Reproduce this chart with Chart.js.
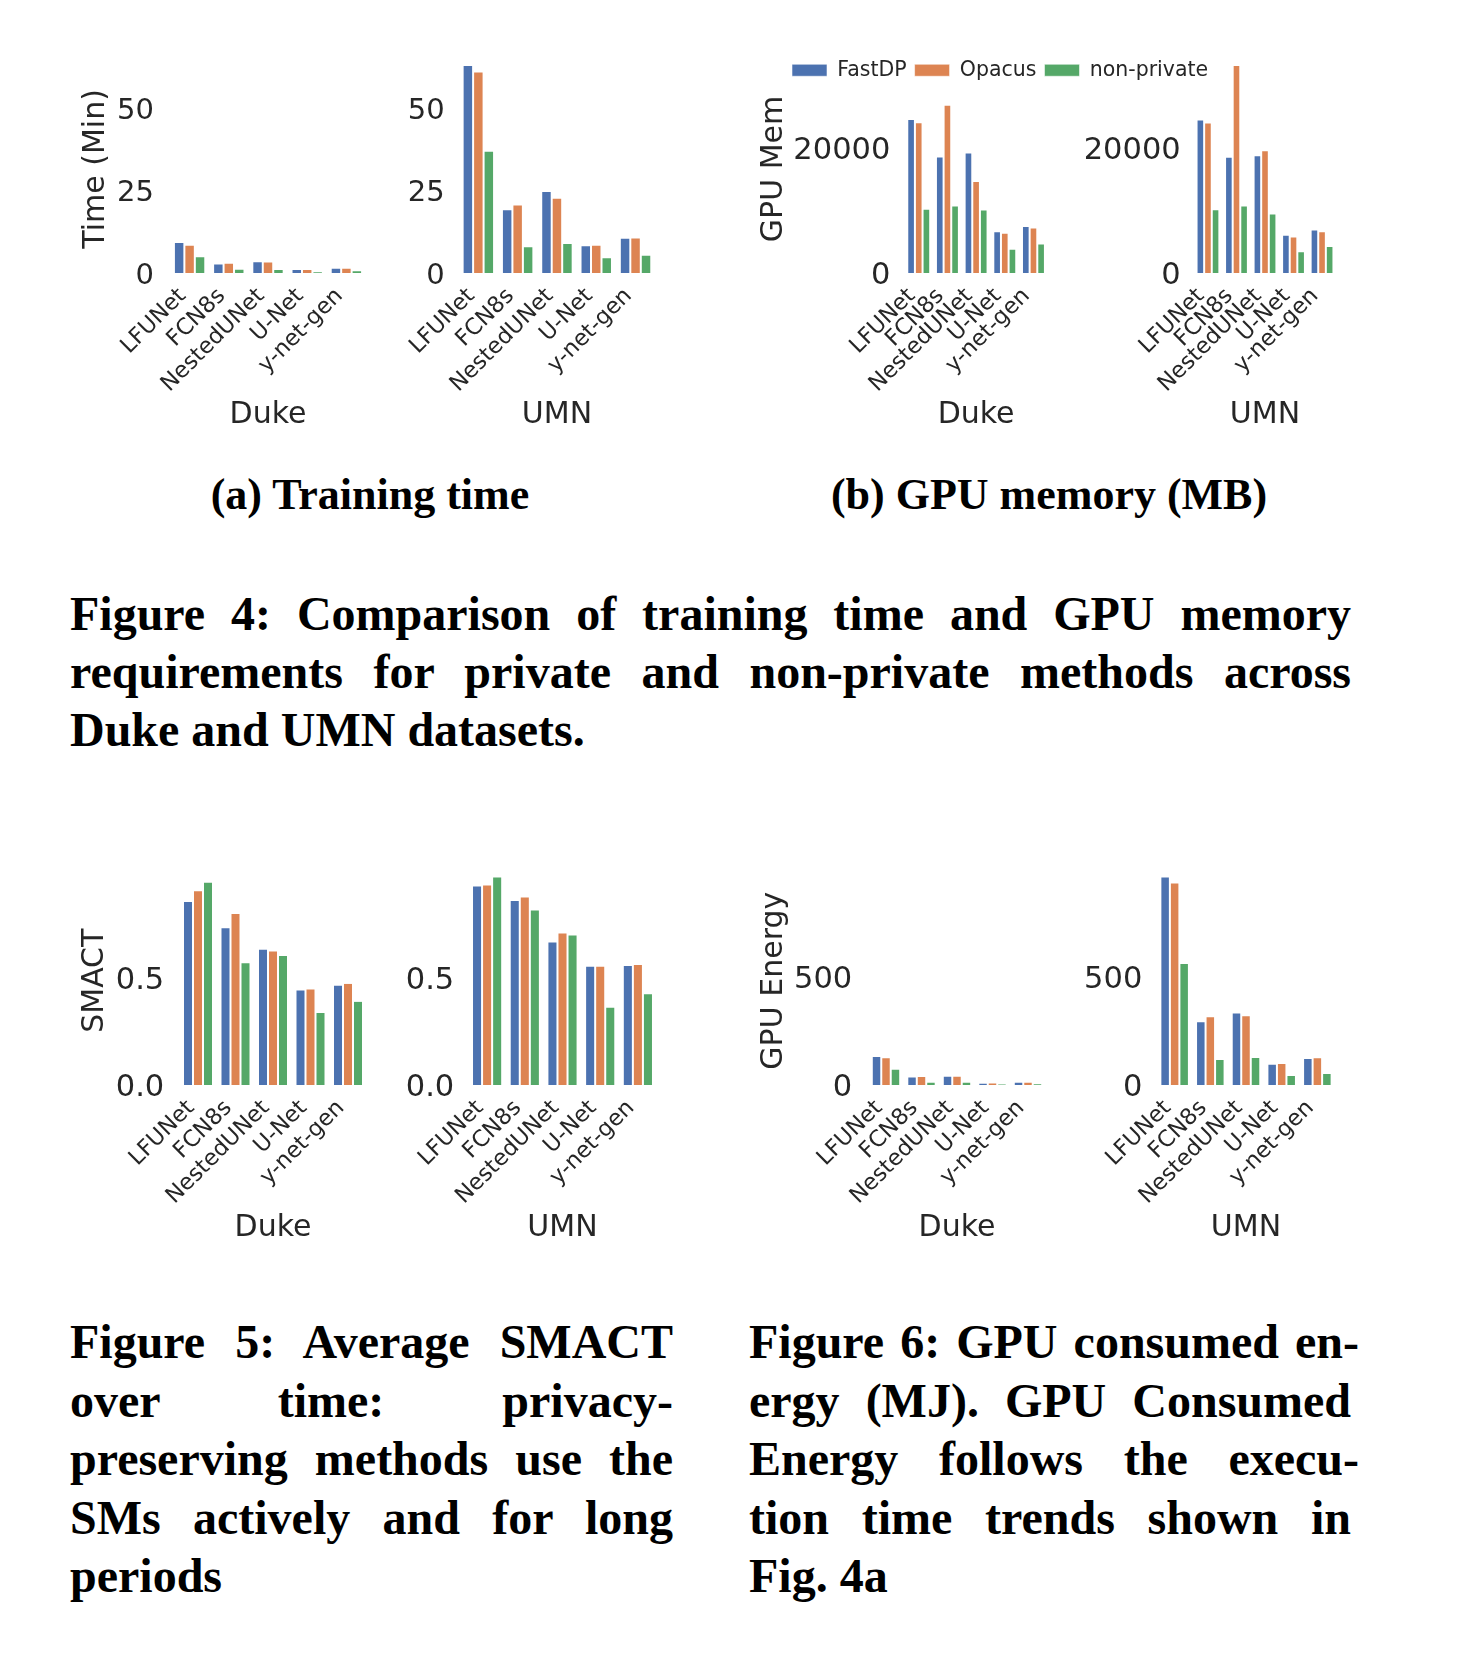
<!DOCTYPE html>
<html>
<head>
<meta charset="utf-8">
<script src="https://cdn.jsdelivr.net/npm/chart.js@4.4.0/dist/chart.umd.min.js"></script>
<style>
  body { margin: 0; background: #fff; width: 1484px; height: 1656px; position: relative; overflow: hidden; }
  canvas { position: absolute; }
  .sub { position: absolute; width: 500px; text-align: center; font: bold 44px/50px "Liberation Serif", serif; color: #000; }
  .cap { position: absolute; font: bold 48px/58px "Liberation Serif", serif; color: #000; }
  .cap .j { text-align: justify; text-align-last: justify; }
</style>
</head>
<body>

<div class="sub" style="left:120px; top:470px;">(a) Training time</div>
<div class="sub" style="left:799px; top:470px;">(b) GPU memory (MB)</div>

<div class="cap" style="left:70px; top:585px; width:1281px;">
  <div class="j">Figure 4: Comparison of training time and GPU memory</div>
  <div class="j">requirements for private and non-private methods across</div>
  <div>Duke and UMN datasets.</div>
</div>

<div class="cap" style="left:70px; top:1313px; width:603px; line-height:58.5px;">
  <div class="j">Figure 5: Average SMACT</div>
  <div class="j">over time: privacy-</div>
  <div class="j">preserving methods use the</div>
  <div class="j">SMs actively and for long</div>
  <div>periods</div>
</div>

<div class="cap" style="left:749px; top:1313px; width:602px; line-height:58.5px;">
  <div class="j" style="width:610px;">Figure 6: GPU consumed en-</div>
  <div class="j">ergy (MJ). GPU Consumed</div>
  <div class="j" style="width:610px;">Energy follows the execu-</div>
  <div class="j">tion time trends shown in</div>
  <div>Fig. 4a</div>
</div>

<script>
// categorias y metodos
const models = ['LFUNet', 'FCN8s', 'NestedUNet', 'U-Net', 'y-net-gen'];
const methods = ['FastDP', 'Opacus', 'non-private'];
const colors = ['#4C72B0', '#DD8452', '#55A868'];

// Fig 4a - tiempo de entrenamiento (min)
const timeDukeFastDP = [9.4, 2.9, 3.6, 1.2, 1.6];
const timeDukeOpacus = [8.6, 3.1, 3.5, 1.2, 1.6];
const timeDukeNonPrivate = [5.1, 1.3, 1.2, 0.5, 0.8];
const timeUmnFastDP = [63.1, 19.3, 24.9, 8.4, 10.7];
const timeUmnOpacus = [61.1, 20.8, 22.8, 8.6, 10.8];
const timeUmnNonPrivate = [37.1, 8.1, 9.1, 4.8, 5.5];

// Fig 4b - memoria GPU (MB)
const memDukeFastDP = [24700, 18700, 19350, 6700, 7550];
const memDukeOpacus = [24200, 27000, 14750, 6450, 7300];
const memDukeNonPrivate = [10300, 10850, 10200, 3900, 4750];
const memUmnFastDP = [24650, 18650, 18900, 6150, 7000];
const memUmnOpacus = [24150, 33400, 19700, 5850, 6700];
const memUmnNonPrivate = [10250, 10850, 9550, 3500, 4350];

// Fig 5 - SMACT
const smactDukeFastDP = [0.862, 0.739, 0.638, 0.447, 0.469];
const smactDukeOpacus = [0.912, 0.806, 0.630, 0.452, 0.478];
const smactDukeNonPrivate = [0.952, 0.575, 0.609, 0.342, 0.394];
const smactUmnFastDP = [0.934, 0.867, 0.672, 0.558, 0.562];
const smactUmnOpacus = [0.939, 0.883, 0.714, 0.558, 0.567];
const smactUmnNonPrivate = [0.977, 0.822, 0.705, 0.366, 0.430];

// Fig 6 - energia GPU (MJ)
const energyDukeFastDP = [135, 40, 43, 11, 15];
const energyDukeOpacus = [129, 42, 43, 12, 15];
const energyDukeNonPrivate = [76, 15, 15, 5, 6];
const energyUmnFastDP = [970, 297, 337, 99, 126];
const energyUmnOpacus = [942, 320, 324, 102, 129];
const energyUmnNonPrivate = [567, 121, 130, 47, 56];

// ticks del eje y
const timeTicks = [0, 25, 50];
const memTicks = [0, 20000];
const smactTicks = [0, 0.5];
const energyTicks = [0, 500];

const TEXT = '#262626';
const FONT = 'DejaVu Sans';
const PAD_TOP = 45;
const PAD_RIGHT = 35;
const TITLE_SIZE = 30;
const TITLE_LH = TITLE_SIZE * 1.2;

// el eje y llega justo hasta la barra mas alta (comparten eje las dos figuras)
function topOf(...arrays) {
  return Math.max(...arrays.flat());
}

function barChart(c) {
  const canvas = document.createElement('canvas');
  const x0 = Math.floor(c.yTitle ? c.yTitleX - TITLE_LH / 2 : c.left - 115);
  const y0 = Math.floor(c.top - PAD_TOP);
  const w = Math.ceil(c.right + PAD_RIGHT - x0);
  const xAxisH = c.xTitleY - c.bottom + TITLE_LH / 2;
  const h = Math.ceil(c.bottom + xAxisH - y0);
  canvas.width = w;
  canvas.height = h;
  canvas.style.left = x0 + 'px';
  canvas.style.top = y0 + 'px';
  canvas.style.width = w + 'px';
  canvas.style.height = h + 'px';
  document.body.appendChild(canvas);

  const yW = c.left - x0;
  const xH = y0 + h - c.bottom;

  new Chart(canvas, {
    type: 'bar',
    data: {
      labels: models,
      datasets: c.series.map((s, i) => ({
        label: methods[i],
        data: s,
        backgroundColor: colors[i],
        borderColor: 'rgba(255,255,255,0.55)',
        borderWidth: 1,
        categoryPercentage: 0.8,
        barPercentage: 1.0,
        clip: false
      }))
    },
    options: {
      responsive: false,
      animation: false,
      layout: { padding: { top: c.top - y0, right: x0 + w - c.right, left: 0, bottom: 0 } },
      plugins: { legend: { display: false }, tooltip: { enabled: false } },
      scales: {
        x: {
          border: { display: false },
          grid: { display: false, drawTicks: false },
          afterFit: a => { a.height = xH; },
          ticks: {
            autoSkip: false, minRotation: 45, maxRotation: 45, padding: 10, labelOffset: -7,
            color: TEXT, font: { family: FONT, size: 22.5 }
          },
          title: { display: true, text: c.xTitle, color: TEXT, padding: 0, font: { family: FONT, size: TITLE_SIZE } }
        },
        y: {
          min: 0,
          max: c.max,
          border: { display: false },
          grid: { display: false, drawTicks: false },
          afterFit: a => { a.width = yW; },
          afterBuildTicks: a => { a.ticks = c.ticks.map(v => ({ value: v })); },
          ticks: {
            padding: c.pad, labelOffset: 3, color: TEXT, font: { family: FONT, size: c.tickSize },
            callback: c.fmt || (v => String(v))
          },
          title: {
            display: !!c.yTitle, text: c.yTitle || '', color: TEXT, padding: 0,
            font: { family: FONT, size: TITLE_SIZE }
          }
        }
      }
    }
  });
}

const timeMax = topOf(timeDukeFastDP, timeDukeOpacus, timeDukeNonPrivate, timeUmnFastDP, timeUmnOpacus, timeUmnNonPrivate);
const memMax = topOf(memDukeFastDP, memDukeOpacus, memDukeNonPrivate, memUmnFastDP, memUmnOpacus, memUmnNonPrivate);
const smactMax = topOf(smactDukeFastDP, smactDukeOpacus, smactDukeNonPrivate, smactUmnFastDP, smactUmnOpacus, smactUmnNonPrivate);
const energyMax = topOf(energyDukeFastDP, energyDukeOpacus, energyDukeNonPrivate, energyUmnFastDP, energyUmnOpacus, energyUmnNonPrivate);

const oneDecimal = v => v.toFixed(1);

// fila de arriba
barChart({ left: 170, right: 366, top: 64.9, bottom: 273, xTitleY: 415, pad: 16, tickSize: 29,
  yTitle: 'Time (Min)', yTitleX: 96, xTitle: 'Duke', max: timeMax, ticks: timeTicks,
  series: [timeDukeFastDP, timeDukeOpacus, timeDukeNonPrivate] });
barChart({ left: 458.7, right: 655.2, top: 64.9, bottom: 273, xTitleY: 415, pad: 14, tickSize: 29,
  xTitle: 'UMN', max: timeMax, ticks: timeTicks,
  series: [timeUmnFastDP, timeUmnOpacus, timeUmnNonPrivate] });
barChart({ left: 904.4, right: 1047.8, top: 64.9, bottom: 273, xTitleY: 415, pad: 14, tickSize: 30.5,
  yTitle: 'GPU Mem', yTitleX: 774.7, xTitle: 'Duke', max: memMax, ticks: memTicks,
  series: [memDukeFastDP, memDukeOpacus, memDukeNonPrivate] });
barChart({ left: 1193.7, right: 1336.3, top: 64.9, bottom: 273, xTitleY: 415, pad: 13, tickSize: 30.5,
  xTitle: 'UMN', max: memMax, ticks: memTicks,
  series: [memUmnFastDP, memUmnOpacus, memUmnNonPrivate] });

// fila de abajo
barChart({ left: 179.25, right: 366.75, top: 876.4, bottom: 1085, xTitleY: 1228, pad: 15, tickSize: 30.5,
  yTitle: 'SMACT', yTitleX: 95.3, xTitle: 'Duke', max: smactMax, ticks: smactTicks, fmt: oneDecimal,
  series: [smactDukeFastDP, smactDukeOpacus, smactDukeNonPrivate] });
barChart({ left: 468.25, right: 656.75, top: 876.4, bottom: 1085, xTitleY: 1228, pad: 14, tickSize: 30.5,
  xTitle: 'UMN', max: smactMax, ticks: smactTicks, fmt: oneDecimal,
  series: [smactUmnFastDP, smactUmnOpacus, smactUmnNonPrivate] });
barChart({ left: 868.25, right: 1045.75, top: 876.4, bottom: 1085, xTitleY: 1228, pad: 16, tickSize: 30.5,
  yTitle: 'GPU Energy', yTitleX: 774.7, xTitle: 'Duke', max: energyMax, ticks: energyTicks,
  series: [energyDukeFastDP, energyDukeOpacus, energyDukeNonPrivate] });
barChart({ left: 1156.8, right: 1335.2, top: 876.4, bottom: 1085, xTitleY: 1228, pad: 14.5, tickSize: 30.5,
  xTitle: 'UMN', max: energyMax, ticks: energyTicks,
  series: [energyUmnFastDP, energyUmnOpacus, energyUmnNonPrivate] });

// leyenda de la figura 4b (un chart aparte solo con la leyenda)
const legendCanvas = document.createElement('canvas');
legendCanvas.width = 460;
legendCanvas.height = 140;
legendCanvas.style.left = '784px';
legendCanvas.style.top = '52px';
document.body.appendChild(legendCanvas);
new Chart(legendCanvas, {
  type: 'bar',
  data: {
    labels: [],
    datasets: methods.map((m, i) => ({
      label: m, data: [], backgroundColor: colors[i],
      borderColor: 'rgba(255,255,255,0.55)', borderWidth: 1
    }))
  },
  options: {
    responsive: false,
    animation: false,
    scales: { x: { display: false }, y: { display: false } },
    plugins: {
      tooltip: { enabled: false },
      legend: {
        position: 'top', align: 'start',
        labels: { boxWidth: 35, boxHeight: 12, padding: 8, color: TEXT, font: { family: FONT, size: 20.5 } }
      }
    }
  }
});
</script>
</body>
</html>
